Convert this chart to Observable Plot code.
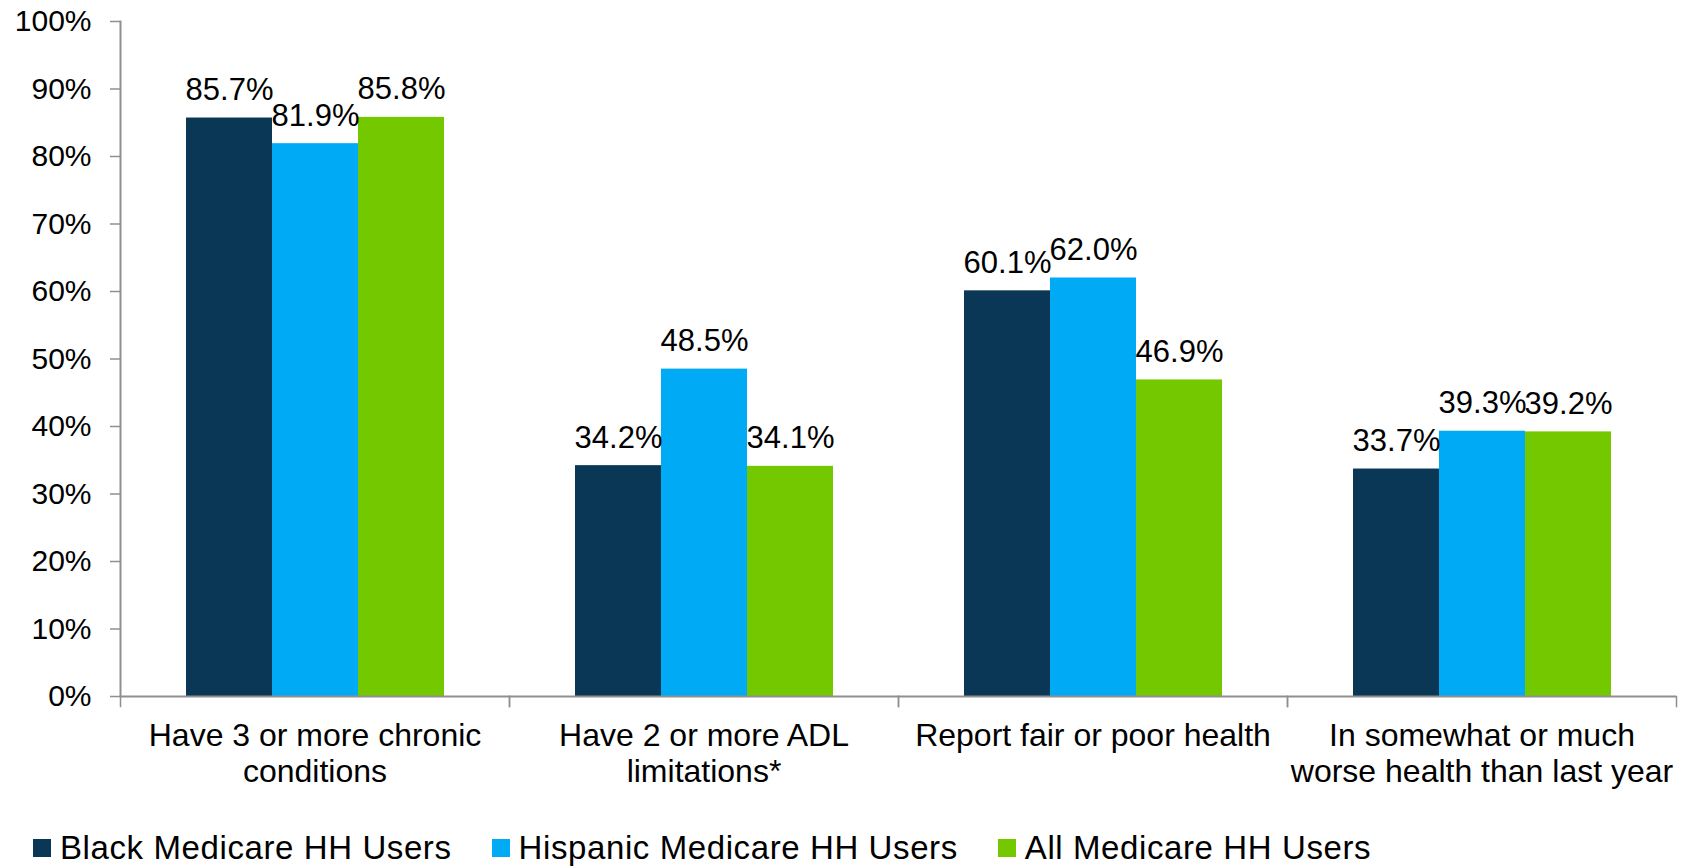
<!DOCTYPE html>
<html>
<head>
<meta charset="utf-8">
<script src="https://cdn.jsdelivr.net/npm/d3@7"></script>
<script src="https://cdn.jsdelivr.net/npm/@observablehq/plot@0.6"></script>
<style>
  body { margin: 0; background: #fff; font-family: "Liberation Sans", Arial, sans-serif; }
  #chart { position: relative; width: 1694px; height: 868px; overflow: hidden; }
  #legend { position: absolute; left: 33px; top: 833px; display: flex; align-items: center;
            font-size: 33px; line-height: 30px; letter-spacing: 0.6px; color: #000; white-space: nowrap; }
  .item { display: flex; align-items: center; margin-right: 40px; }
  .sw { width: 18px; height: 18px; margin-right: 9px; }
</style>
</head>
<body>
<div id="chart"></div>
<script>
// ---- data ----
const categories = [
  "Have 3 or more chronic conditions",
  "Have 2 or more ADL limitations*",
  "Report fair or poor health",
  "In somewhat or much worse health than last year"
];
const categoryTickLabels = [
  "Have 3 or more chronic\nconditions",
  "Have 2 or more ADL\nlimitations*",
  "Report fair or poor health",
  "In somewhat or much\nworse health than last year"
];
const series = ["Black Medicare HH Users", "Hispanic Medicare HH Users", "All Medicare HH Users"];
const blackValues    = [85.7, 34.2, 60.1, 33.7];
const hispanicValues = [81.9, 48.5, 62.0, 39.3];
const allValues      = [85.8, 34.1, 46.9, 39.2];
const seriesColors = ["#0a3756", "#00aaf5", "#74c800"];
const yTicks = [0, 10, 20, 30, 40, 50, 60, 70, 80, 90, 100];

// ---- table built from the arrays ----
const seriesValues = [blackValues, hispanicValues, allValues];
const table = [];
categories.forEach((c, i) => {
  series.forEach((s, j) => table.push({category: c, series: s, value: seriesValues[j][i]}));
});

const W = 1694, H = 805, mTop = 21, mBottom = 109, mLeft = 120, mRight = 18;
const plotHeight = H - mTop - mBottom;
const tickLen = 10;
const axisGray = "#8f8f8f";
const font = "'Liberation Sans', Arial, sans-serif";

const chart = Plot.plot({
  width: W,
  height: H,
  marginLeft: mLeft,
  marginRight: mRight,
  marginTop: mTop,
  marginBottom: mBottom,
  style: {fontFamily: font, background: "white", color: "black", overflow: "visible"},
  fx: {domain: categories, padding: 0, label: null},
  x: {domain: series, paddingInner: 0, paddingOuter: 0.75, axis: null},
  y: {domain: [0, 100], label: null},
  color: {domain: series, range: seriesColors},
  marks: [
    Plot.barY(table, {fx: "category", x: "series", y: "value", fill: "series"}),
    // vertical axis line (first facet only)
    Plot.frame({anchor: "left", fx: [categories[0]], stroke: axisGray, strokeWidth: 2}),
    // category separator ticks below the baseline
    Plot.frame({anchor: "left", insetTop: plotHeight, insetBottom: -tickLen, stroke: axisGray, strokeWidth: 1.5}),
    Plot.frame({anchor: "right", insetTop: plotHeight, insetBottom: -tickLen, stroke: axisGray, strokeWidth: 1.5}),
    Plot.ruleY([0], {stroke: axisGray, strokeWidth: 2}),
    Plot.axisY({ticks: yTicks, tickSize: tickLen, tickPadding: 19, fontSize: 30,
                tickFormat: d => d + "%", stroke: axisGray, strokeWidth: 1.5, fill: "black", label: null}),
    Plot.axisFx({anchor: "bottom", tickSize: 0, tickPadding: 24, fontSize: 32, lineHeight: 1.12,
                 fill: "black", label: null,
                 tickFormat: d => categoryTickLabels[categories.indexOf(d)]}),
    Plot.text(table, {fx: "category", x: "series", y: "value",
                      text: d => d.value.toFixed(1) + "%", dy: -28, fontSize: 31, fill: "black"})
  ]
});

const root = document.getElementById("chart");
root.appendChild(chart);

const legend = document.createElement("div");
legend.id = "legend";
series.forEach((s, j) => {
  const item = document.createElement("div");
  item.className = "item";
  const sw = document.createElement("span");
  sw.className = "sw";
  sw.style.background = seriesColors[j];
  const label = document.createElement("span");
  label.textContent = s;
  item.appendChild(sw);
  item.appendChild(label);
  legend.appendChild(item);
});
root.appendChild(legend);
</script>
</body>
</html>
